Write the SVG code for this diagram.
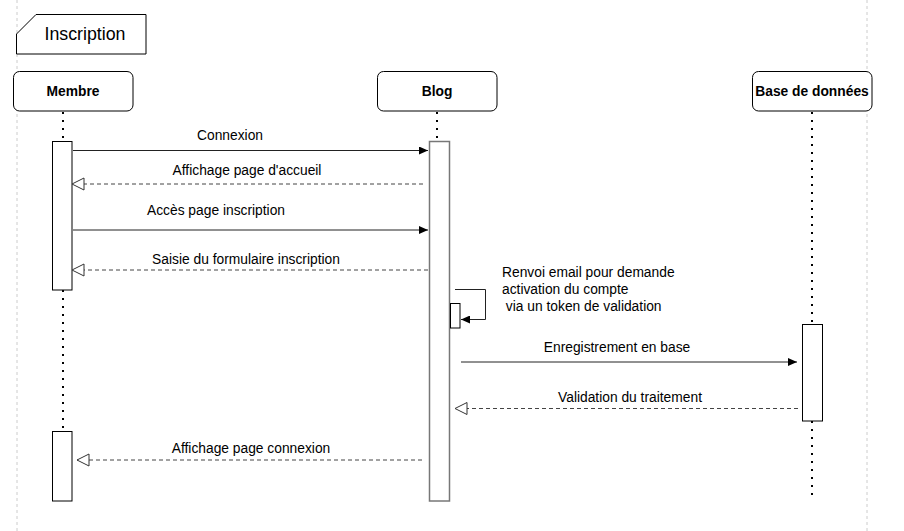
<svg xmlns="http://www.w3.org/2000/svg" width="904" height="531" viewBox="0 0 904 531">
<style>
.t{font-family:"Liberation Sans",Arial,sans-serif;font-size:13.8px;fill:#000}
.b{font-weight:bold;text-anchor:middle}
.m{text-anchor:middle}
.box{fill:#fff;stroke:#000;stroke-width:1}
.act{fill:#fff;stroke:#000;stroke-width:1}
.life{stroke:#000;stroke-width:2;stroke-dasharray:2 6;fill:none}
.sol{stroke:#222;stroke-width:1;fill:none}
.dsh{stroke:#444;stroke-width:1;stroke-dasharray:4 3;fill:none}
.frame{stroke:#ccc;stroke-width:1;stroke-dasharray:3 3;fill:none}
</style>
<defs>
<marker id="fa" markerWidth="10" markerHeight="8" refX="9" refY="4" orient="auto" markerUnits="userSpaceOnUse">
<path d="M0,0 L9,4 L0,8 Z" fill="#000"/>
</marker>
<marker id="oa" markerWidth="15" markerHeight="14" refX="13.5" refY="7" orient="auto" markerUnits="userSpaceOnUse">
<path d="M1.5,1 L13.5,7 L1.5,13 Z" fill="#fff" stroke="#333" stroke-width="1"/>
</marker>
</defs>
<rect width="904" height="531" fill="#fff"/>
<g id="frame">
<line class="frame" x1="17" y1="0" x2="17" y2="531"/>
<line class="frame" x1="867" y1="0" x2="867" y2="531"/>
<path d="M36,14.5 H146 V54 H16.5 V34 Z" fill="#fff" stroke="#000" stroke-width="1"/>
<text class="t m" x="85" y="40" style="font-size:17.8px">Inscription</text>
</g>
<g id="lifelines">
<line class="life" x1="63" y1="112" x2="63" y2="141"/>
<line class="life" x1="63" y1="290" x2="63" y2="431"/>
<line class="life" x1="437" y1="112" x2="437" y2="141"/>
<line class="life" x1="812" y1="112" x2="812" y2="324"/>
<line class="life" x1="812" y1="421" x2="812" y2="501"/>
</g>
<g id="membre">
<rect class="box" x="13.5" y="71.5" width="119.5" height="39.5" rx="6"/>
<text class="t b" x="73" y="96">Membre</text>
</g>
<g id="blog">
<rect class="box" x="377.5" y="71.5" width="119.5" height="39.5" rx="6"/>
<text class="t b" x="437" y="96">Blog</text>
</g>
<g id="bdd">
<rect class="box" x="752.5" y="71.5" width="119.5" height="39.5" rx="6"/>
<text class="t b" x="812" y="96">Base de données</text>
</g>
<g id="activations">
<rect class="act" x="52.5" y="141.5" width="19.5" height="148.5"/>
<rect class="act" x="52.5" y="431.5" width="19.5" height="69.5"/>
<rect class="act" x="429.5" y="141.5" width="20" height="359.5" style="stroke:#777;stroke-width:1.5"/>
<rect class="act" x="450.5" y="303.5" width="9.5" height="24.5"/>
<rect class="act" x="802.5" y="324.5" width="20" height="96.5"/>
</g>
<g id="connectors">
<line class="sol" x1="73" y1="150.5" x2="428" y2="150.5" marker-end="url(#fa)"/>
<text class="t m" x="230" y="140">Connexion</text>
<line class="dsh" x1="423" y1="184" x2="72" y2="184" marker-end="url(#oa)"/>
<text class="t m" x="247" y="175">Affichage page d'accueil</text>
<line class="sol" x1="73" y1="230" x2="428" y2="230" marker-end="url(#fa)"/>
<text class="t m" x="216" y="215">Accès page inscription</text>
<line class="dsh" x1="428" y1="270" x2="72" y2="270" marker-end="url(#oa)"/>
<text class="t m" x="246" y="264">Saisie du formulaire inscription</text>
<path class="sol" d="M455,289.5 H485.5 V319.5 H461" marker-end="url(#fa)"/>
<text class="t" x="502" y="277">Renvoi email pour demande</text>
<text class="t" x="502" y="294">activation du compte</text>
<text class="t" x="502" y="311" xml:space="preserve"> via un token de validation</text>
<line class="sol" x1="461" y1="362" x2="797" y2="362" marker-end="url(#fa)"/>
<text class="t m" x="617" y="352">Enregistrement en base</text>
<line class="dsh" x1="798" y1="408.5" x2="455" y2="408.5" marker-end="url(#oa)"/>
<text class="t m" x="630" y="402">Validation du traitement</text>
<line class="dsh" x1="422" y1="460" x2="77" y2="460" marker-end="url(#oa)"/>
<text class="t m" x="251" y="453">Affichage page connexion</text>
</g>
</svg>
